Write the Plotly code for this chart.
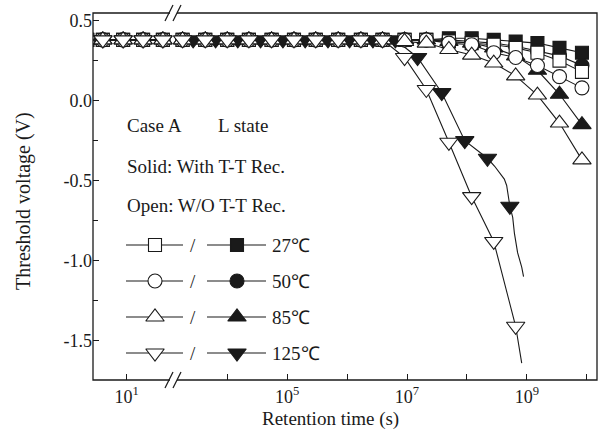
import plotly.graph_objects as go

# ---------------- data ----------------
# left (pre-break) segment
T_LEFT = [2.2, 4.0, 8.7, 18.7, 40.0]
V_LEFT_27O = [0.38, 0.38, 0.38, 0.38, 0.38]
V_LEFT_27S = [0.38, 0.38, 0.38, 0.38, 0.38]
V_LEFT_50O = [0.38, 0.38, 0.38, 0.38, 0.38]
V_LEFT_50S = [0.38, 0.38, 0.38, 0.38, 0.38]
V_LEFT_85O = [0.38, 0.38, 0.38, 0.38, 0.38]
V_LEFT_85S = [0.38, 0.38, 0.38, 0.38, 0.38]
V_LEFT_125O = [0.38, 0.38, 0.38, 0.38, 0.38]
V_LEFT_125S = [0.38, 0.38, 0.38, 0.38, 0.38]

# right (post-break) segment
T_RIGHT = [1.8e3, 4.3e3, 1.0e4, 2.3e4, 5.5e4, 1.3e5, 3.0e5, 7.1e5, 1.7e6, 3.9e6,
           9.1e6, 2.1e7, 5.0e7, 1.2e8, 2.8e8, 6.5e8, 1.5e9, 3.5e9, 8.3e9]
V27_OPEN = [0.38, 0.38, 0.38, 0.38, 0.38, 0.38, 0.38, 0.38, 0.38, 0.38,
            0.38, 0.38, 0.37, 0.36, 0.35, 0.33, 0.30, 0.25, 0.18]
V27_SOLID = [0.38, 0.38, 0.38, 0.38, 0.38, 0.38, 0.38, 0.38, 0.38, 0.38,
             0.38, 0.38, 0.39, 0.39, 0.38, 0.37, 0.36, 0.33, 0.30]
V50_OPEN = [0.38, 0.38, 0.38, 0.38, 0.38, 0.38, 0.38, 0.38, 0.38, 0.38,
            0.38, 0.38, 0.36, 0.35, 0.30, 0.27, 0.22, 0.15, 0.08]
V50_SOLID = [0.38, 0.38, 0.38, 0.38, 0.38, 0.38, 0.38, 0.38, 0.38, 0.38,
             0.38, 0.38, 0.38, 0.37, 0.36, 0.34, 0.31, 0.28, 0.22]
V85_OPEN = [0.38, 0.38, 0.38, 0.38, 0.38, 0.38, 0.38, 0.38, 0.38, 0.38,
            0.37, 0.36, 0.32, 0.285, 0.235, 0.155, 0.035, -0.14, -0.37]
V85_SOLID = [0.38, 0.38, 0.38, 0.38, 0.38, 0.38, 0.38, 0.38, 0.38, 0.38,
             0.38, 0.38, 0.37, 0.36, 0.33, 0.28, 0.19, 0.04, -0.15]
T125_OPEN = [1.8e3, 4.3e3, 1.0e4, 2.3e4, 5.5e4, 1.3e5, 3.0e5, 7.1e5, 1.7e6, 3.9e6,
             9.1e6, 2.1e7, 5.0e7, 1.2e8, 2.8e8, 6.5e8]
V125_OPEN = [0.38, 0.38, 0.38, 0.38, 0.38, 0.38, 0.38, 0.38, 0.38, 0.38,
             0.27, 0.07, -0.26, -0.60, -0.88, -1.41]
TAIL_125O_T = [8.2e8]
TAIL_125O_V = [-1.64]

T125_SOLID = [2.7e3, 6.4e3, 1.5e4, 3.6e4, 8.5e4, 2.0e5, 4.8e5, 1.1e6, 2.7e6, 6.4e6,
              1.5e7, 3.8e7, 9.2e7, 2.2e8, 5.2e8]
V125_SOLID = [0.38, 0.38, 0.38, 0.38, 0.38, 0.38, 0.38, 0.38, 0.38, 0.38,
              0.27, 0.05, -0.25, -0.36, -0.66]
TAIL_125S_T = [2.9e8, 3.5e8, 4.2e8, 4.6e8, 5.8e8, 6.2e8, 7.0e8, 8.2e8, 8.8e8]
TAIL_125S_V = [-0.41, -0.45, -0.49, -0.53, -0.73, -0.83, -0.95, -1.04, -1.10]

Y_TICKS = [0.5, 0.0, -0.5, -1.0, -1.5]
Y_TICKTEXT = ["0.5", "0.0", "-0.5", "-1.0", "-1.5"]
Y_MINOR = [0.25, -0.25, -0.75, -1.25]
XL_TICKS = [10]
XL_TICKTEXT = ["10<sup>1</sup>"]
XR_TICKS = [1e5, 1e7, 1e9]
XR_TICKTEXT = ["10<sup>5</sup>", "10<sup>7</sup>", "10<sup>9</sup>"]
XR_MINOR = [1e4, 1e6, 1e8, 1e10]

TEMPS = ["27℃", "50℃", "85℃", "125℃"]
SYMBOLS = ["square", "circle", "triangle-up", "triangle-down"]
SIZES = [13, 14, 16, 16]

FONT = "Liberation Serif, Times New Roman, serif"
INK = "#1a1a1a"

# ---------------- figure ----------------
fig = go.Figure()

series = [
    (0, True, V_LEFT_27S, T_RIGHT, V27_SOLID, [], []),
    (1, True, V_LEFT_50S, T_RIGHT, V50_SOLID, [], []),
    (2, True, V_LEFT_85S, T_RIGHT, V85_SOLID, [], []),
    (3, True, V_LEFT_125S, T125_SOLID, V125_SOLID, TAIL_125S_T, TAIL_125S_V),
    (0, False, V_LEFT_27O, T_RIGHT, V27_OPEN, [], []),
    (1, False, V_LEFT_50O, T_RIGHT, V50_OPEN, [], []),
    (2, False, V_LEFT_85O, T_RIGHT, V85_OPEN, [], []),
    (3, False, V_LEFT_125O, T125_OPEN, V125_OPEN, TAIL_125O_T, TAIL_125O_V),
]


def mk(idx, solid):
    return dict(symbol=SYMBOLS[idx], size=SIZES[idx],
                color=INK if solid else "white",
                line=dict(color=INK, width=1.1))


for idx, solid, vl, tr, vr, tt, tv in series:
    m = mk(idx, solid)
    fig.add_trace(go.Scatter(x=T_LEFT, y=vl, mode="lines+markers", xaxis="x", yaxis="y",
                             line=dict(color=INK, width=1.1), marker=m,
                             showlegend=False, hoverinfo="skip"))
    pts = sorted(zip(list(tr) + list(tt), list(vr) + list(tv)))
    fig.add_trace(go.Scatter(x=[p[0] for p in pts], y=[p[1] for p in pts], mode="lines",
                             xaxis="x2", yaxis="y", line=dict(color=INK, width=1.1),
                             showlegend=False, hoverinfo="skip"))
    fig.add_trace(go.Scatter(x=tr, y=vr, mode="markers", xaxis="x2", yaxis="y",
                             marker=m, showlegend=False, hoverinfo="skip"))

# ---------------- custom legend (overlay axes in pixel units) ----------------
ROW_Y = [245, 281, 317, 353]
for i in range(4):
    y = ROW_Y[i]
    fig.add_trace(go.Scatter(x=[126, 183], y=[y, y], mode="lines", xaxis="x3", yaxis="y3",
                             line=dict(color=INK, width=1.1), showlegend=False, hoverinfo="skip"))
    fig.add_trace(go.Scatter(x=[207, 266], y=[y, y], mode="lines", xaxis="x3", yaxis="y3",
                             line=dict(color=INK, width=1.1), showlegend=False, hoverinfo="skip"))
    fig.add_trace(go.Scatter(x=[155], y=[y], mode="markers", xaxis="x3", yaxis="y3",
                             marker=mk(i, False), showlegend=False, hoverinfo="skip"))
    fig.add_trace(go.Scatter(x=[237], y=[y], mode="markers", xaxis="x3", yaxis="y3",
                             marker=mk(i, True), showlegend=False, hoverinfo="skip"))

annots = []


def txt(x, y, s, anchor="left", size=19):
    annots.append(dict(x=x, y=y, xref="x3", yref="y3", text=s, showarrow=False,
                       xanchor=anchor, yanchor="middle",
                       font=dict(family=FONT, size=size, color=INK)))


txt(125, 125, "Case A")
txt(216, 125, "L state")
txt(125, 166, "Solid: With T-T Rec.")
txt(125, 205, "Open: W/O T-T Rec.")
for i in range(4):
    txt(193, ROW_Y[i], "/", "center")
    txt(270, ROW_Y[i], TEMPS[i])


# ---------------- frame and break marks ----------------
def px(x):
    return (x - 93) / 504.0


def py(y):
    return (380 - y) / 367.0


# axis titles (paper coordinates)
annots.append(dict(x=px(330), y=py(419), xref="paper", yref="paper", text="Retention time (s)",
                   showarrow=False, xanchor="center", yanchor="middle",
                   font=dict(family=FONT, size=19, color=INK)))
annots.append(dict(x=px(23), y=py(201), xref="paper", yref="paper",
                   text="Threshold voltage (V)", textangle=-90, showarrow=False,
                   xanchor="center", yanchor="middle",
                   font=dict(family=FONT, size=20, color=INK)))

shapes = [dict(type="rect", xref="paper", yref="paper", x0=0, x1=1, y0=0, y1=1,
               line=dict(color=INK, width=1.3), fillcolor="rgba(0,0,0,0)")]
for yc in (13, 380):
    shapes.append(dict(type="line", xref="paper", yref="paper", x0=px(170), x1=px(177),
                       y0=py(yc), y1=py(yc), line=dict(color="white", width=3)))
    shapes.append(dict(type="line", xref="paper", yref="paper", x0=px(165), x1=px(173),
                       y0=py(yc + 8), y1=py(yc - 8), line=dict(color=INK, width=1.2)))
    shapes.append(dict(type="line", xref="paper", yref="paper", x0=px(173), x1=px(181),
                       y0=py(yc + 8), y1=py(yc - 8), line=dict(color=INK, width=1.2)))

tickfont = dict(family=FONT, size=18, color=INK)
fig.update_layout(
    width=602, height=439, autosize=False,
    margin=dict(l=93, r=5, t=13, b=59, autoexpand=False),
    paper_bgcolor="white", plot_bgcolor="rgba(0,0,0,0)",
    xaxis=dict(type="log", domain=[0, 0.1587], range=[0.438, 1.77], anchor="y",
               tickvals=XL_TICKS, ticktext=XL_TICKTEXT, ticks="inside", ticklen=6,
               tickwidth=1.2, tickcolor=INK, showgrid=False, zeroline=False,
               showline=False, tickfont=tickfont, ticklabelstandoff=4),
    xaxis2=dict(type="log", domain=[0.1587, 1], range=[3.095, 10.17], anchor="y",
                tickvals=XR_TICKS, ticktext=XR_TICKTEXT, ticks="inside", ticklen=6,
                tickwidth=1.2, tickcolor=INK, showgrid=False, zeroline=False,
                showline=False, tickfont=tickfont, ticklabelstandoff=4,
                minor=dict(tickvals=XR_MINOR, ticks="inside", ticklen=6, tickwidth=1.2,
                           tickcolor=INK, showgrid=False)),
    yaxis=dict(range=[-1.746, 0.548], anchor="x", tickvals=Y_TICKS, ticktext=Y_TICKTEXT,
               ticks="inside", ticklen=6, tickwidth=1.2, tickcolor=INK,
               minor=dict(tickvals=Y_MINOR, ticks="inside", ticklen=5,
                          tickcolor=INK, tickwidth=1.2, showgrid=False),
               showgrid=False, zeroline=False, showline=False, tickfont=tickfont,
               ticklabelstandoff=0),
    xaxis3=dict(domain=[0, 1], range=[93, 597], anchor="y3", visible=False),
    yaxis3=dict(domain=[0, 1], range=[380, 13], anchor="x3", visible=False),
    annotations=annots,
    shapes=shapes,
)

fig.write_html("out.html", config={"displayModeBar": False},
               post_script="document.body.style.margin='0';")
